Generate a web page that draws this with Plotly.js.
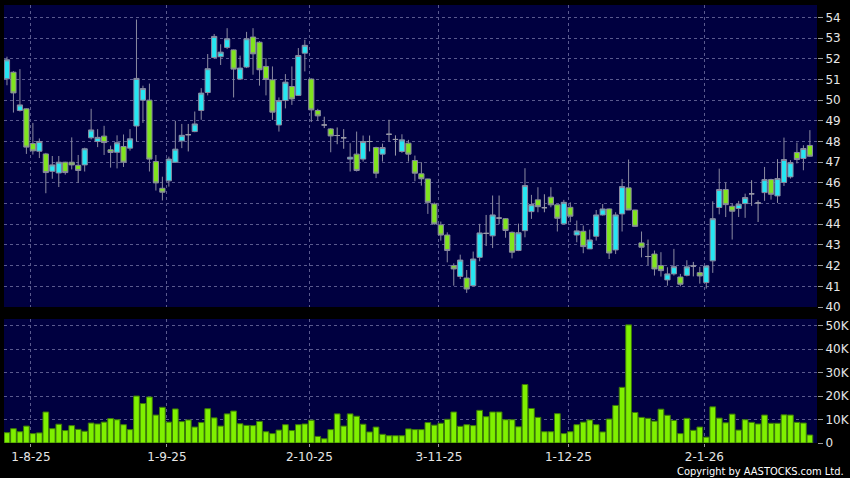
<!DOCTYPE html>
<html><head><meta charset="utf-8">
<script src="https://cdn.plot.ly/plotly-3.0.1.min.js"></script>
<style>html,body{margin:0;padding:0;background:#000;}#chart{width:850px;height:478px;}</style>
</head><body><div id="chart"></div>
<script>
// Daily OHLC (HKD), trading days from 28 Jul 2025 to 26 Jan 2026
const openP = [51.03,51.35,49.5,49.58,47.9,47.53,47.4,46.56,46.48,47.0,
  47.0,46.85,46.87,48.18,48.0,48.26,47.6,47.48,47.76,47.68,
  48.75,50.0,50.0,47.03,45.74,46.1,47.0,48.03,48.33,48.48,
  49.5,50.37,52.06,52.1,52.55,52.43,51.02,51.6,53.05,52.8,
  51.63,50.98,48.8,49.98,50.66,50.23,52.27,51.02,49.5,48.8,
  48.61,48.29,48.18,47.15,47.39,47.15,48.0,47.71,47.39,48.35,
  48.1,47.52,47.92,47.08,46.44,46.19,44.98,43.97,43.48,42.0,
  41.48,41.4,41.03,42.4,43.56,43.44,44.3,44.27,43.61,42.73,
  43.69,44.61,45.18,44.8,45.31,44.94,44.02,44.82,43.48,43.66,
  42.81,43.42,44.45,44.74,42.76,44.5,45.76,44.69,43.1,42.44,
  42.56,42.0,41.31,41.6,41.45,41.53,41.98,41.66,41.18,42.23,
  44.81,45.68,44.87,44.76,45.0,45.47,45.03,45.53,46.16,45.37,
  46.02,46.29,47.47,47.18,47.81];
const highP = [52.1,51.4,51.5,49.6,48.9,48.15,47.45,47.3,47.3,47.02,
  48.2,47.35,47.7,49.58,48.6,48.76,47.8,48.3,48.34,48.6,
  53.9,50.7,50.8,47.35,46.3,47.27,49.0,48.85,48.85,49.45,
  50.58,52.23,53.2,52.7,53.48,52.45,52.15,53.3,53.48,52.85,
  52.03,51.63,50.13,51.26,51.63,52.52,52.92,51.05,49.58,49.2,
  48.65,48.68,48.6,47.92,48.48,48.29,48.29,47.75,47.9,49.05,
  48.3,48.35,48.08,47.32,47.0,46.2,45.05,44.13,43.61,42.11,
  42.53,41.79,42.68,44.02,44.45,45.39,45.39,44.3,43.65,44.03,
  46.71,45.42,45.79,45.45,45.79,44.95,45.18,45.06,44.18,43.94,
  43.74,44.69,44.98,44.76,44.58,46.19,47.13,44.7,43.65,43.26,
  42.73,42.65,41.92,42.81,41.6,42.26,42.18,41.94,42.0,45.11,
  46.69,46.02,45.0,45.13,45.48,46.13,45.16,46.77,46.2,47.15,
  48.19,47.1,47.95,47.82,48.55];
const lowP = [50.72,49.4,49.45,47.4,47.37,47.2,45.5,46.2,45.8,46.4,
  46.65,46.0,46.55,48.1,47.73,47.35,46.74,46.7,46.77,47.56,
  48.0,48.9,46.55,45.63,45.15,45.82,46.97,47.68,47.52,48.45,
  49.05,50.23,52.0,51.7,52.47,50.13,51.0,51.55,51.23,50.7,
  50.23,49.05,48.48,49.6,49.77,50.2,51.39,48.94,49.0,48.65,
  47.48,47.87,47.65,46.55,46.55,47.03,47.52,46.23,47.03,48.0,
  47.32,47.45,47.03,46.08,45.87,44.5,43.98,43.21,42.16,41.03,
  41.35,40.68,41.0,42.21,42.95,42.85,44.0,43.35,42.35,42.7,
  43.37,44.26,44.58,44.58,44.82,43.65,44.0,44.1,43.13,42.6,
  42.8,43.21,44.42,42.32,42.56,43.65,44.69,43.88,42.4,42.03,
  41.52,41.47,41.03,41.52,41.0,41.48,41.48,41.13,40.89,41.65,
  44.48,44.35,43.26,44.35,44.31,44.89,44.11,45.13,45.19,45.03,
  45.85,46.21,46.94,46.61,47.26];
const closeP = [51.95,50.35,49.77,47.73,47.55,48.0,46.5,46.87,47.0,46.5,
  46.87,46.6,47.65,48.56,48.2,47.95,47.47,47.94,47.0,48.13,
  51.05,50.56,47.15,46.0,45.55,47.15,47.63,48.3,48.33,48.85,
  50.34,51.52,53.08,52.32,52.97,51.5,51.55,52.97,52.24,51.47,
  51.0,49.42,49.98,50.87,50.06,52.16,52.65,49.53,49.24,48.8,
  48.27,48.29,48.18,47.24,46.6,48.0,48.0,46.47,47.71,48.35,
  48.1,48.08,47.39,46.47,46.2,45.06,44.02,43.48,42.73,41.84,
  42.27,40.87,42.32,43.58,43.56,44.45,44.3,43.7,42.65,43.59,
  45.87,44.95,44.85,44.8,44.94,44.29,45.06,44.39,43.68,42.92,
  43.24,44.45,44.74,42.61,44.45,45.82,44.69,43.9,42.89,42.44,
  41.84,41.76,41.6,41.95,41.1,41.94,41.98,41.5,41.98,44.27,
  45.68,44.95,44.63,44.97,45.29,45.47,45.03,46.16,45.45,46.21,
  47.13,46.98,47.13,47.66,47.29];
// Daily volume, thousands of shares
const volumeK = [4.4,6.1,4.8,7.2,4.0,4.3,13.2,6.1,8.0,5.3,
  7.4,5.8,5.0,8.5,8.1,8.9,10.4,9.9,7.8,5.7,
  20.0,16.8,19.6,11.9,15.2,8.9,14.5,9.1,9.8,6.8,
  8.7,14.6,10.7,7.2,12.4,13.6,8.2,7.5,7.4,9.2,
  4.8,4.0,5.5,7.8,5.3,7.8,8.1,9.7,2.8,1.8,
  5.7,12.4,7.2,12.4,11.4,8.0,4.7,6.8,3.7,3.1,
  3.1,3.1,6.0,5.7,5.7,8.7,7.6,8.4,10.1,13.2,
  7.1,7.8,7.4,13.9,11.2,13.2,13.2,9.9,9.9,6.9,
  24.9,14.7,10.9,4.8,4.8,12.5,4.0,4.8,7.8,8.9,
  9.8,7.8,4.7,10.2,16.0,23.7,50.3,13.0,10.9,10.5,
  9.3,14.4,11.8,9.6,4.0,10.5,5.4,6.8,2.5,15.4,
  10.6,8.6,12.3,5.5,9.9,8.8,8.1,11.9,8.4,8.4,
  12.0,11.9,8.8,8.5,3.4];
// Month-start trading-day positions and labels
const tickIndex = [4,25,47,67,87,108];
const tickLabels = ['1-8-25','1-9-25','2-10-25','3-11-25','1-12-25','2-1-26'];
const priceTicks = [40,41,42,43,44,45,46,47,48,49,50,51,52,53,54];
const volTicks = [0,10,20,30,40,50];
const volTickLabels = ['0','10K','20K','30K','40K','50K'];

const idx = openP.map((_, i) => i);
function subset(test) {
  const s = {x: [], open: [], high: [], low: [], close: []};
  idx.forEach(i => {
    if (test(openP[i], closeP[i])) {
      s.x.push(i); s.open.push(openP[i]); s.high.push(highP[i]);
      s.low.push(lowP[i]); s.close.push(closeP[i]);
    }
  });
  return s;
}
const upS = subset((o, c) => c > o);
const dnS = subset((o, c) => c < o);
const djS = subset((o, c) => c === o);

const UP = '#26e6f2', DN = '#80e41e', EDGE = '#8a8aa0', DOJI = '#9a9aa8';
function candle(s, fill, edge) {
  return {
    type: 'candlestick', xaxis: 'x', yaxis: 'y',
    x: s.x, open: s.open, high: s.high, low: s.low, close: s.close,
    increasing: {fillcolor: fill, line: {color: edge, width: 1}},
    decreasing: {fillcolor: fill, line: {color: edge, width: 1}},
    whiskerwidth: 0, hoverinfo: 'skip'
  };
}
const traces = [
  candle(upS, UP, EDGE),
  candle(dnS, DN, EDGE),
  candle(djS, DOJI, DOJI),
  {type: 'bar', xaxis: 'x2', yaxis: 'y2', x: idx, y: volumeK,
   marker: {color: '#7ff000', line: {color: '#3c7a08', width: 1}}, hoverinfo: 'skip'}
];

const gridVals = tickIndex.map(v => v - 0.3);
const GRID = '#5a5a8e', FONT = {family: 'DejaVu Sans', size: 12, color: '#e6e6e6'};
const layout = {
  width: 850, height: 478,
  paper_bgcolor: '#000000', plot_bgcolor: '#000040',
  margin: {l: 4, r: 33, t: 5, b: 35},
  showlegend: false, boxgap: 0.2, boxgroupgap: 0, boxmode: 'overlay', bargap: 0.12,
  xaxis: {anchor: 'y', range: [-0.46, 125.1], rangeslider: {visible: false},
    tickmode: 'array', tickvals: gridVals, showticklabels: false, ticks: '',
    showgrid: true, gridcolor: GRID, griddash: '3px,3px', gridwidth: 1,
    zeroline: false, showline: false, fixedrange: true},
  xaxis2: {anchor: 'y2', matches: 'x', range: [-0.46, 125.1],
    tickmode: 'array', tickvals: gridVals, ticktext: tickLabels,
    ticks: 'outside', ticklen: 3, tickcolor: '#9a9a9a', tickfont: FONT,
    showgrid: true, gridcolor: GRID, griddash: '3px,3px', gridwidth: 1,
    zeroline: false, showline: false},
  yaxis: {domain: [0.3105, 1], range: [40, 54.6], side: 'right',
    tickmode: 'array', tickvals: priceTicks, ticks: 'outside', ticklen: 5,
    tickcolor: '#9a9a9a', tickfont: FONT,
    showgrid: true, gridcolor: GRID, griddash: '3px,3px', gridwidth: 1,
    zeroline: false, showline: false},
  yaxis2: {domain: [0, 0.2831], range: [0, 52.8], side: 'right',
    tickmode: 'array', tickvals: volTicks, ticktext: volTickLabels,
    ticks: 'outside', ticklen: 5, tickcolor: '#9a9a9a', tickfont: FONT,
    showgrid: true, gridcolor: GRID, griddash: '3px,3px', gridwidth: 1,
    zeroline: false, showline: false},
  annotations: [{
    text: 'Copyright by AASTOCKS.com Ltd.', xref: 'paper', yref: 'paper',
    x: 1, y: 0, xanchor: 'right', yanchor: 'middle', xshift: 29, yshift: -28,
    showarrow: false, font: {family: 'DejaVu Sans Condensed, Liberation Sans Narrow, Liberation Sans', size: 11, color: '#ffffff'}
  }]
};
Plotly.newPlot('chart', traces, layout, {staticPlot: true, displayModeBar: false});
</script>
</body></html>
